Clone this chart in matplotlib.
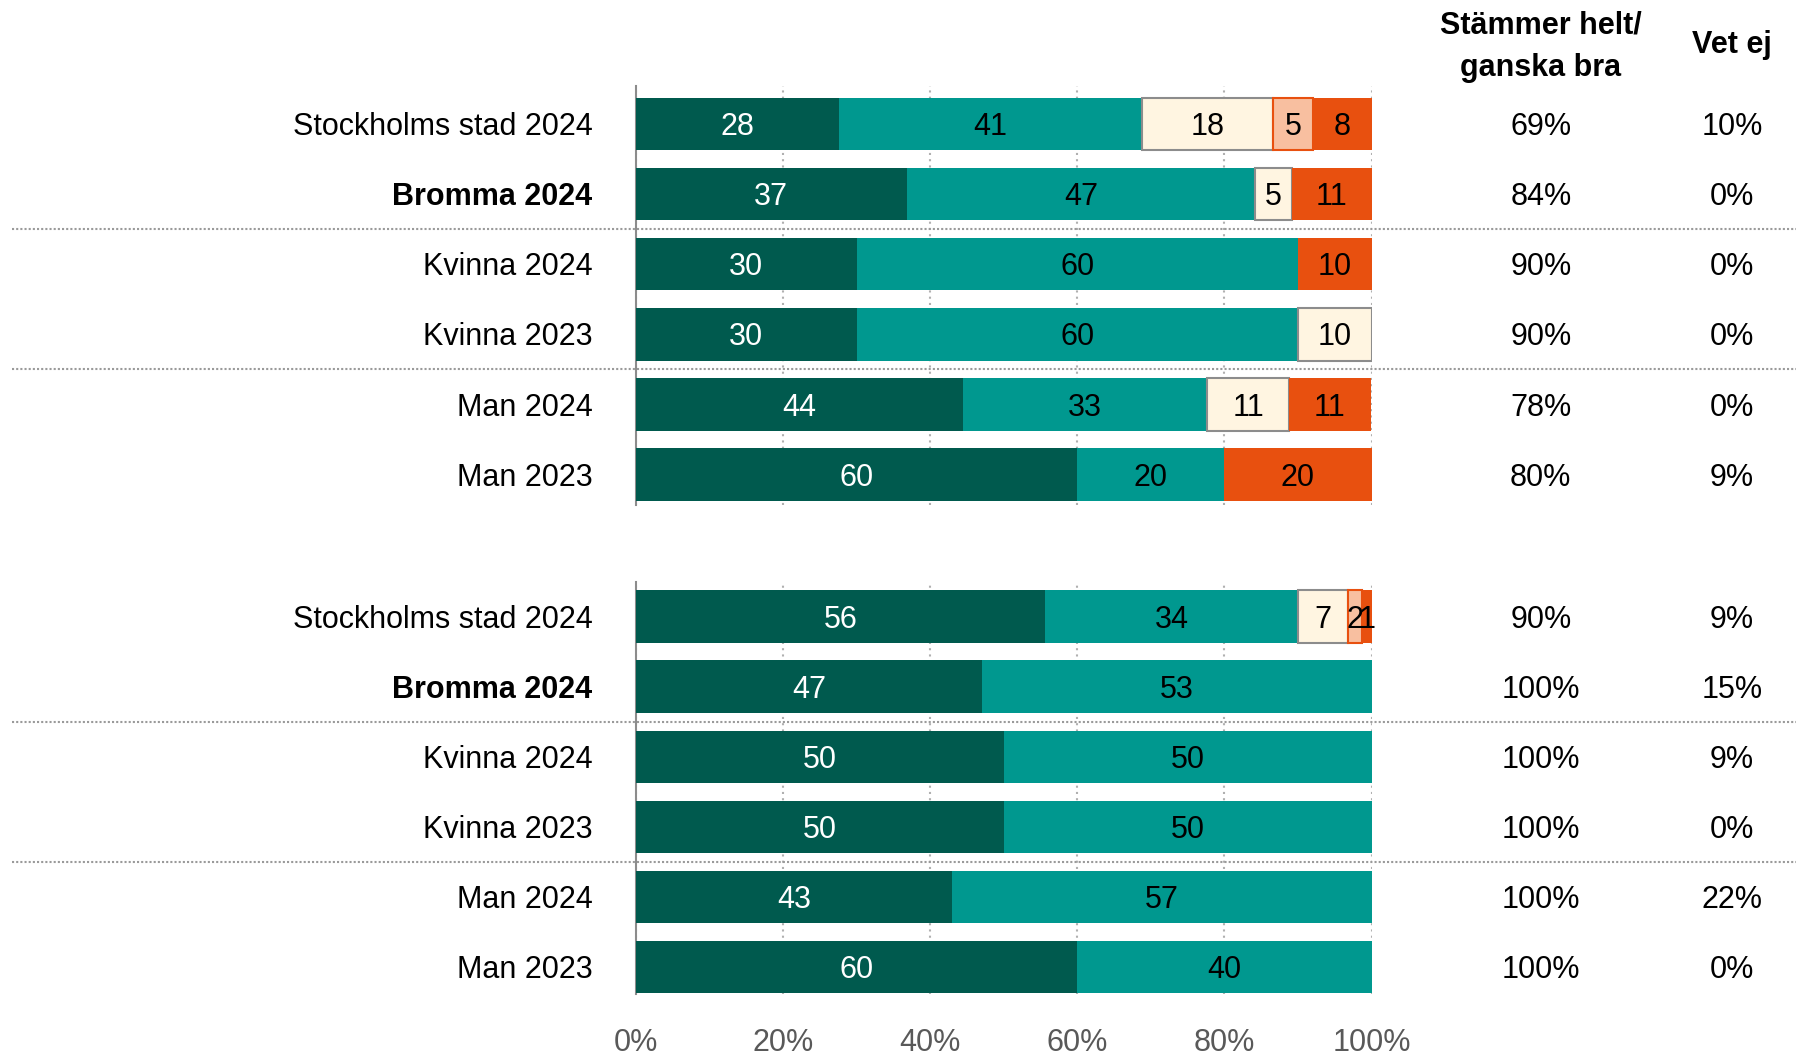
import matplotlib
matplotlib.use("Agg")
import matplotlib.pyplot as plt
from matplotlib.transforms import blended_transform_factory
import numpy as np

plt.rcParams['font.family'] = ['Liberation Sans', 'DejaVu Sans']

# ---- data ----
categories = ["Stockholms stad 2024", "Bromma 2024", "Kvinna 2024",
              "Kvinna 2023", "Man 2024", "Man 2023"]
bold_cats = ["Bromma 2024"]

# group 1 segments: helt, ganska, ganska dåligt, mycket dåligt(light), helt dåligt
g1_s1 = [27.6, 36.8, 30.0, 30.0, 44.4, 60.0]
g1_s2 = [41.2, 47.4, 60.0, 60.0, 33.3, 20.0]
g1_s3 = [17.8, 5.0, 0.0, 10.0, 11.1, 0.0]
g1_s4 = [5.4, 0.0, 0.0, 0.0, 0.0, 0.0]
g1_s5 = [8.0, 10.8, 10.0, 0.0, 11.1, 20.0]
g1_agree = ["69%", "84%", "90%", "90%", "78%", "80%"]
g1_dontknow = ["10%", "0%", "0%", "0%", "0%", "9%"]

g2_s1 = [55.6, 47.0, 50.0, 50.0, 42.9, 60.0]
g2_s2 = [34.4, 53.0, 50.0, 50.0, 57.1, 40.0]
g2_s3 = [6.8, 0.0, 0.0, 0.0, 0.0, 0.0]
g2_s4 = [1.9, 0.0, 0.0, 0.0, 0.0, 0.0]
g2_s5 = [1.3, 0.0, 0.0, 0.0, 0.0, 0.0]
g2_agree = ["90%", "100%", "100%", "100%", "100%", "100%"]
g2_dontknow = ["9%", "15%", "9%", "0%", "22%", "0%"]

xticks = [0, 20, 40, 60, 80, 100]
xticklabels = ["0%", "20%", "40%", "60%", "80%", "100%"]
header_agree = "Stämmer helt/\nganska bra"
header_dk = "Vet ej"

# ---- styles ----
colors = ["#005A4E", "#00988F", "#FFF5E1", "#F8BFA0", "#E8500F"]
edges = [None, None, "#8C8C8C", "#E8500F", None]
txtcol = ["white", "black", "black", "black", "black"]
FS = 22
DY = 0.045

fig = plt.figure(figsize=(18.01, 10.54), dpi=100)
L, R = 636 / 1801, 1371.5 / 1801
ax1 = fig.add_axes([L, 1 - 505.4 / 1054, R - L, (505.4 - 86.1) / 1054])
ax2 = fig.add_axes([L, 1 - 993.5 / 1054, R - L, (993.5 - 582.4) / 1054])

groups = [
    (ax1, [g1_s1, g1_s2, g1_s3, g1_s4, g1_s5], g1_agree, g1_dontknow, (5.44, -0.54)),
    (ax2, [g2_s1, g2_s2, g2_s3, g2_s4, g2_s5], g2_agree, g2_dontknow, (5.38, -0.49)),
]

for ax, segs, agree, dk, ylim in groups:
    y = np.arange(len(categories))
    left = np.zeros(len(categories))
    for k, vals in enumerate(segs):
        vals = np.array(vals)
        for i, v in enumerate(vals):
            if v <= 0:
                continue
            ax.barh(y[i], v, left=left[i], height=0.75, color=colors[k],
                    edgecolor=edges[k] if edges[k] else colors[k],
                    linewidth=1.5 if edges[k] else 0, zorder=3)
            ax.text(left[i] + v / 2, y[i] + DY, f"{int(round(v))}", ha="center",
                    va="center", fontsize=FS, color=txtcol[k], zorder=4)
        left = left + vals
    ax.set_xlim(0, 100)
    ax.set_ylim(*ylim)
    ax.set_yticks([])
    for s in ["top", "right", "bottom"]:
        ax.spines[s].set_visible(False)
    ax.spines["left"].set_color("#8C8C8C")
    ax.spines["left"].set_linewidth(1.5)
    ax.set_xticks(xticks)
    ax.xaxis.grid(True, linestyle=(0, (1, 2)), color="#B0B0B0", linewidth=1.5, zorder=0)
    ax.set_axisbelow(True)
    ax.tick_params(axis="x", length=0, pad=24.5, labelsize=FS, labelcolor="#595959")

    tr = blended_transform_factory(fig.transFigure, ax.transData)
    for i, c in enumerate(categories):
        ax.text(0.329, i + DY, c, transform=tr, ha="right", va="center", fontsize=FS,
                fontweight="bold" if c in bold_cats else "normal", color="black")
        ax.text(0.8555, i + DY, agree[i], transform=tr, ha="center", va="center",
                fontsize=FS, color="black")
        ax.text(0.9617, i + DY, dk[i], transform=tr, ha="center", va="center",
                fontsize=FS, color="black")
    for ys in (1.5, 3.5):
        ax.plot([0.0064, 0.997], [ys, ys], transform=tr, clip_on=False,
                color="#9A9A9A", linestyle=(0, (1, 1)), linewidth=1.5, zorder=1)

ax1.set_xticklabels([])
ax2.set_xticklabels(xticklabels)

fig.text(0.8555, 1 - 46.5 / 1054, header_agree, ha="center", va="center",
         fontsize=FS, fontweight="bold", linespacing=1.55)
fig.text(0.9617, 1 - 45 / 1054, header_dk, ha="center", va="center",
         fontsize=FS, fontweight="bold")

fig.savefig("out.png", dpi=100)
